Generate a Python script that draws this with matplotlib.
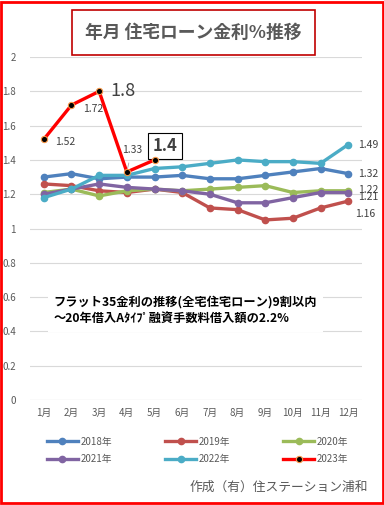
import matplotlib.pyplot as plt
from matplotlib.patches import Rectangle

plt.rcParams['font.family'] = ['Noto Sans CJK JP', 'DejaVu Sans']

months = ["1月", "2月", "3月", "4月", "5月", "6月", "7月", "8月", "9月", "10月", "11月", "12月"]
rate_2018 = [1.30, 1.32, 1.29, 1.30, 1.30, 1.31, 1.29, 1.29, 1.31, 1.33, 1.35, 1.32]
rate_2019 = [1.26, 1.25, 1.22, 1.21, 1.23, 1.21, 1.12, 1.11, 1.05, 1.06, 1.12, 1.16]
rate_2020 = [1.21, 1.23, 1.19, 1.22, 1.23, 1.22, 1.23, 1.24, 1.25, 1.21, 1.22, 1.22]
rate_2021 = [1.20, 1.23, 1.26, 1.24, 1.23, 1.22, 1.20, 1.15, 1.15, 1.18, 1.21, 1.21]
rate_2022 = [1.18, 1.23, 1.31, 1.31, 1.35, 1.36, 1.38, 1.40, 1.39, 1.39, 1.38, 1.49]
rate_2023 = [1.52, 1.72, 1.80, 1.33, 1.40]

series = [
    ("2018年", rate_2018, "#4F81BD"),
    ("2019年", rate_2019, "#C0504D"),
    ("2020年", rate_2020, "#9BBB59"),
    ("2021年", rate_2021, "#8064A2"),
    ("2022年", rate_2022, "#4BACC6"),
]

fig = plt.figure(figsize=(3.84, 5.05), dpi=100)
ax = fig.add_axes([0.078, 0.208, 0.865, 0.679])

xs = list(range(1, 13))
lines = []
for name, vals, col in series:
    ln, = ax.plot(xs[:len(vals)], vals, color=col, lw=2.4, marker="o", ms=4.5,
                  label=name, zorder=3)
    lines.append(ln)

ln, = ax.plot(xs[:len(rate_2023)], rate_2023, color="#FF0000", lw=2.4, marker="o",
              ms=4.5, mfc="black", mec="#F79646", mew=0.8, label="2023年", zorder=4)
lines.append(ln)

ax.set_xlim(0.5, 12.5)
ax.set_ylim(0, 2)
ax.set_yticks([0, 0.2, 0.4, 0.6, 0.8, 1, 1.2, 1.4, 1.6, 1.8, 2])
ax.set_yticklabels(["0", "0.2", "0.4", "0.6", "0.8", "1", "1.2", "1.4", "1.6", "1.8", "2"])
ax.set_xticks(xs)
ax.set_xticklabels(months)
ax.tick_params(length=0, labelsize=7, colors="#595959")
ax.tick_params(axis="y", pad=10)
ax.tick_params(axis="x", pad=6)
ax.grid(axis="y", color="#D9D9D9", lw=0.8)
ax.set_axisbelow(True)
for s in ax.spines.values():
    s.set_visible(False)
ax.axhline(0, color="#D9D9D9", lw=0.8, zorder=1)

# data labels for 2023
lbl = dict(fontsize=7.5, color="#404040", va="center")
ax.annotate("1.52", (1, rate_2023[0]), xytext=(8, -2), textcoords="offset points", **lbl)
ax.annotate("1.72", (2, rate_2023[1]), xytext=(8, -3), textcoords="offset points", **lbl)
ax.annotate("1.8", (3, rate_2023[2]), xytext=(8, 0), textcoords="offset points",
            fontsize=13, color="#404040", va="center")
ax.annotate("1.33", (4, rate_2023[3]), xytext=(3.5, 16), textcoords="offset points",
            fontsize=7.5, color="#404040", va="center", ha="center",
            arrowprops=dict(arrowstyle="-", color="#A6A6A6", lw=0.6, shrinkA=4, shrinkB=3))
ax.annotate("1.4", (5, rate_2023[4]), xytext=(7.5, 10), textcoords="offset points",
            fontsize=12, fontweight="bold", color="#404040", ha="center", va="center",
            bbox=dict(boxstyle="square,pad=0.25", fc="white", ec="black", lw=0.8))

# right-side labels
ax.annotate("1.49", (12, rate_2022[-1]), xytext=(7, 0), textcoords="offset points", **lbl)
ax.annotate("1.32", (12, rate_2018[-1]), xytext=(7, 0), textcoords="offset points", **lbl)
ax.annotate("1.22", (12, rate_2020[-1]), xytext=(7, 0.5), textcoords="offset points", **lbl)
ax.annotate("1.21", (12, rate_2021[-1]), xytext=(7, -3.5), textcoords="offset points", **lbl)
ax.annotate("1.16", (12, rate_2019[-1]), xytext=(5, -9), textcoords="offset points", **lbl)

# note box
ax.text(0.072, 0.305, "フラット35金利の推移(全宅住宅ローン)9割以内\n～20年借入Aﾀｲﾌﾟ融資手数料借入額の2.2%",
        transform=ax.transAxes, fontsize=8.8, fontweight="bold", color="black",
        linespacing=1.45, va="top", ha="left",
        bbox=dict(boxstyle="square,pad=0.5", fc="white", ec="none"))

# title
fig.text(0.503, 0.935, "年月 住宅ローン金利%推移", ha="center", va="center",
         fontsize=12.8, fontweight="bold", color="#595959",
         bbox=dict(boxstyle="square,pad=0.75", fc="white", ec="#C00000", lw=1.2))

# legend filled row by row
order = [0, 3, 1, 4, 2, 5]
fig.legend([lines[i] for i in order], [lines[i].get_label() for i in order],
           loc="center", bbox_to_anchor=(0.515, 0.108), ncol=3, frameon=False,
           fontsize=7, handlelength=3.2, handletextpad=0.3, columnspacing=5.4,
           labelspacing=0.8, labelcolor="#595959")

fig.text(0.958, 0.036, "作成（有）住ステーション浦和", ha="right", va="center",
         fontsize=9.2, color="#595959")

fig.patches.append(Rectangle((0.003, 0.003), 0.994, 0.994, transform=fig.transFigure,
                             fill=False, ec="#FF0000", lw=2))

fig.savefig("out.png", dpi=100)
